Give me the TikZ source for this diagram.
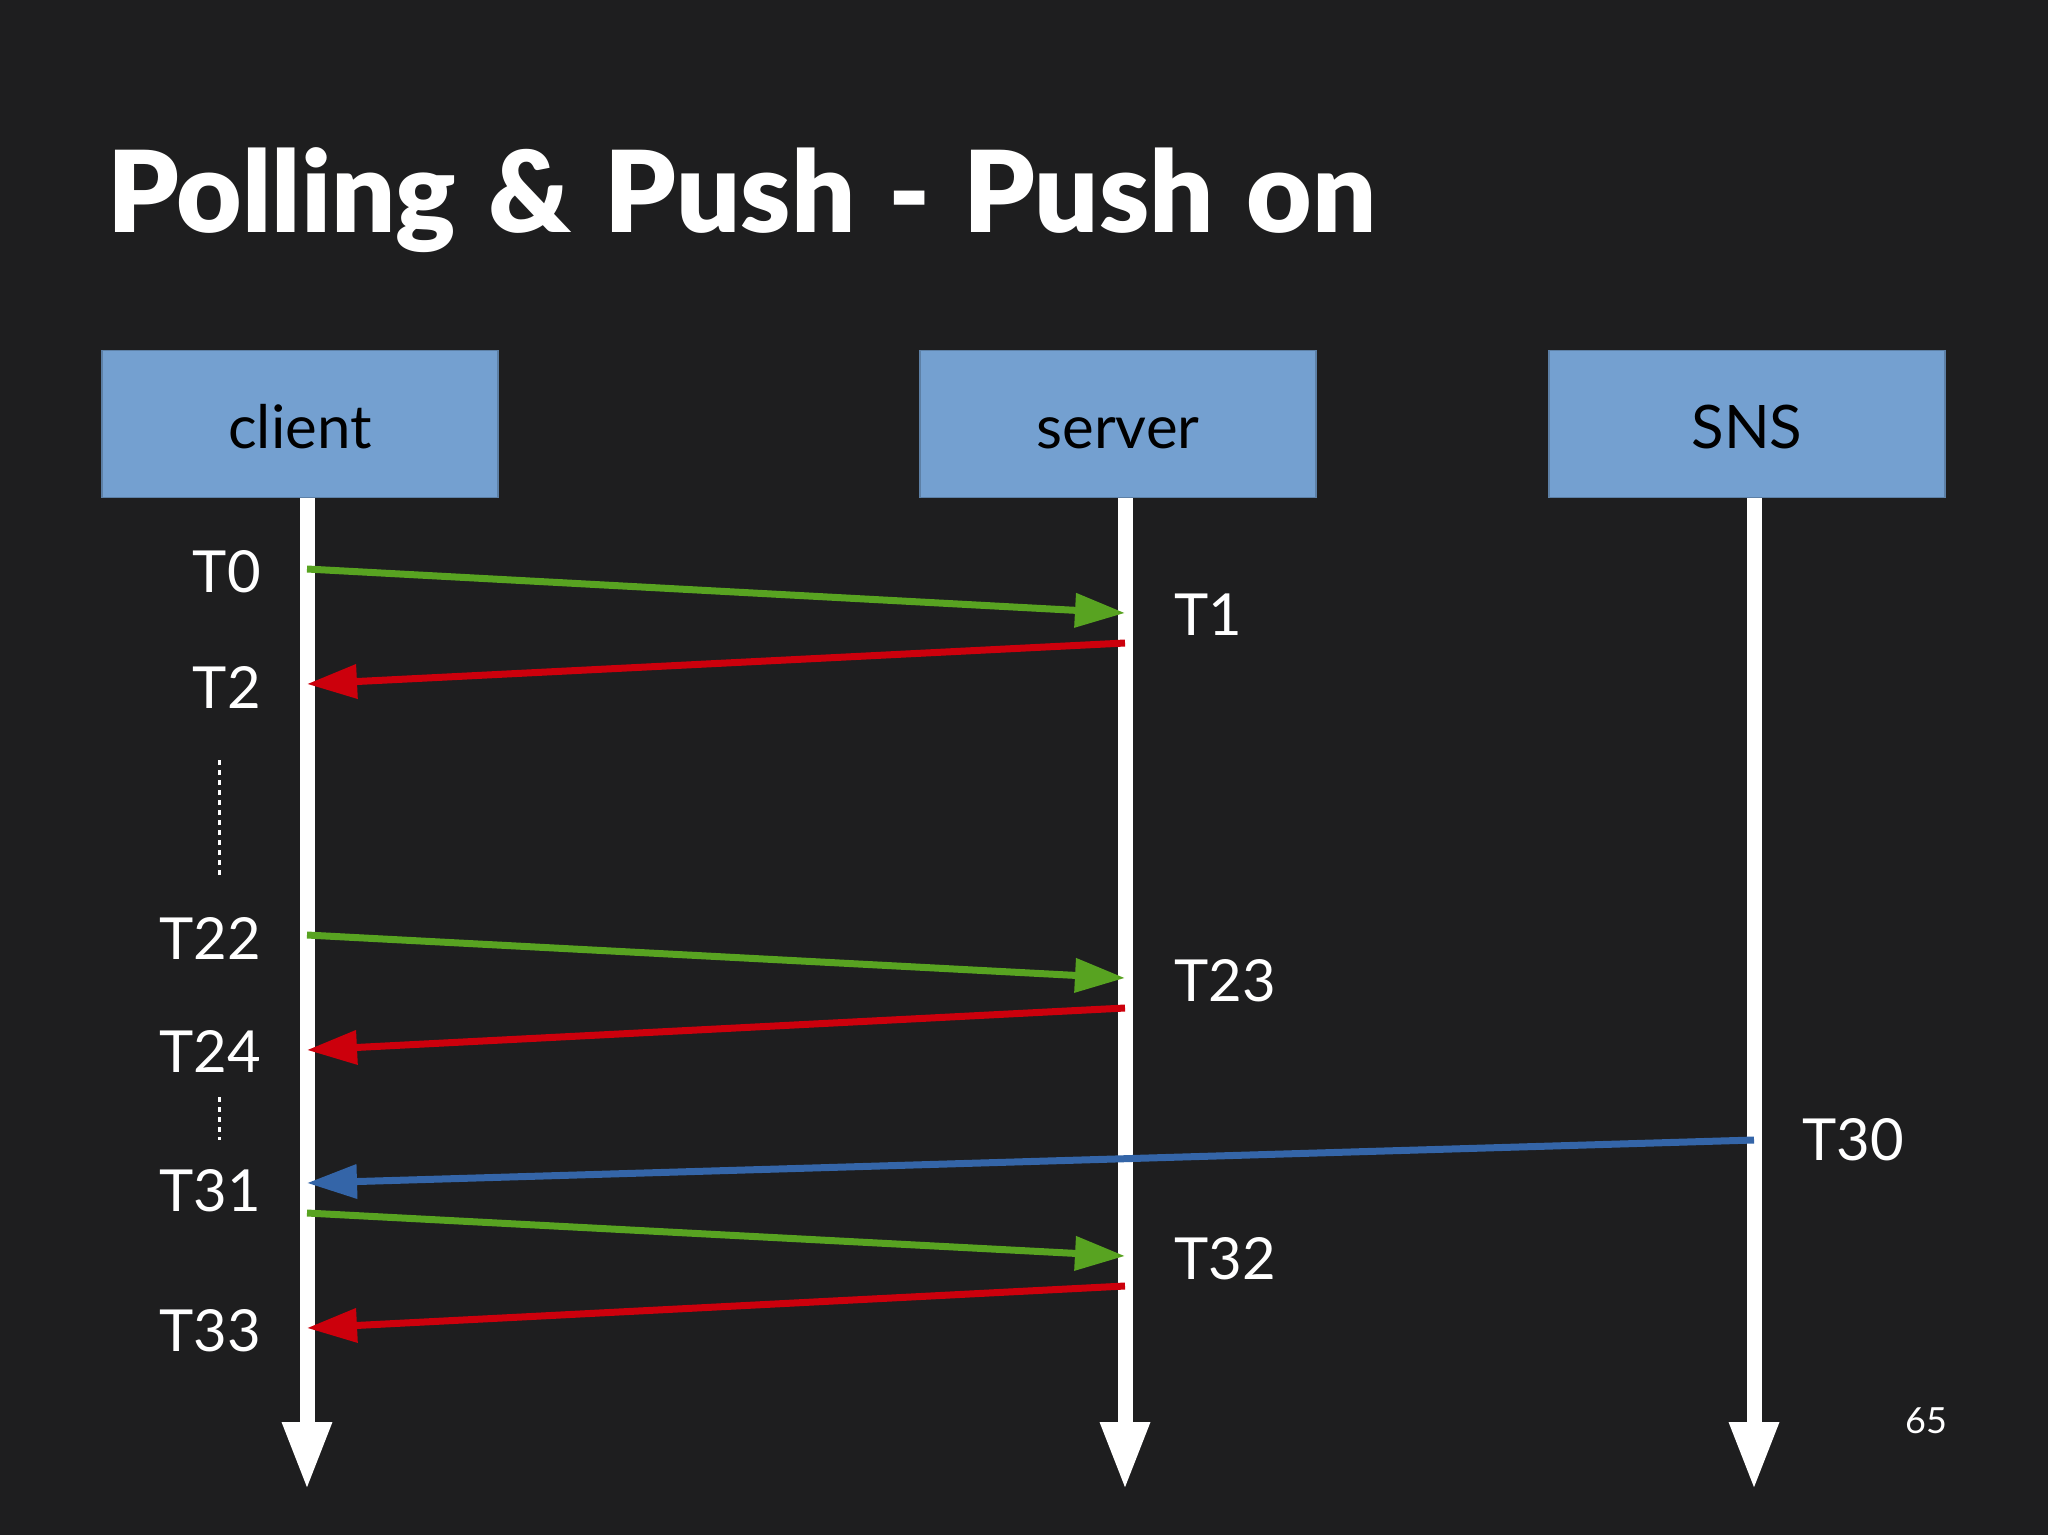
\documentclass[tikz,border=0pt]{standalone}
\usepackage{fontspec}
\setmainfont{Lato}
\newfontfamily\titlefont{Lato Black}[WordSpace=1.25]
\usetikzlibrary{arrows.meta}

\definecolor{slidebg}{RGB}{30,30,31}
\definecolor{boxblue}{RGB}{116,160,208}
\definecolor{msggreen}{RGB}{88,163,33}
\definecolor{msgred}{RGB}{204,0,12}
\definecolor{msgblue}{RGB}{52,101,168}

\tikzset{
    actor/.style={draw=boxblue!80!black, line width=1.5pt, fill=boxblue,
        minimum width=396pt, minimum height=147pt, inner sep=0pt,
        text height=48pt, text depth=0pt, font=\fontsize{60}{72}\selectfont},
    lifeline/.style={white, line width=15pt, -{Triangle[length=68pt,width=46pt]}},
    msg/.style={line width=7pt, -{Triangle[length=50pt,width=33pt]}},
    tlabel/.style={text=white, inner sep=0pt, font=\fontsize{58}{70}\selectfont},
}

\begin{document}
\begin{tikzpicture}[x=1pt, y=-1pt]
    % Background
    \useasboundingbox (0,0) rectangle (2048,1535);
    \fill[slidebg] (0,0) rectangle (2048,1535);

    % Title
    \node[text=white, inner sep=0pt, anchor=base west, font=\fontsize{113}{130}\titlefont] (title) at (107,232) {Polling \& Push - Push on};

    % Actors
    \node[actor] (client) at (300,424) {client};
    \node[actor] (server) at (1118,424) {server};
    \node[actor] (sns) at (1747,424) {SNS};

    % Lifelines
    \coordinate (clientEnd) at (307,1490);
    \coordinate (serverEnd) at (1125,1490);
    \coordinate (snsEnd) at (1754,1490);
    \draw[lifeline] (client.south -| clientEnd) -- (clientEnd);
    \draw[lifeline] (server.south -| serverEnd) -- (serverEnd);
    \draw[lifeline] (sns.south -| snsEnd) -- (snsEnd);

    % Time points on the lifelines
    \foreach \name/\y in {c0/569, c2/684, c22/935, c24/1050, c31/1183, c31b/1213, c33/1328} {
        \coordinate (\name) at (307,\y);
    }
    \foreach \name/\y in {s1/613, s2/643, s23/978, s24/1008, s32/1256, s33/1286} {
        \coordinate (\name) at (1125,\y);
    }
    \coordinate (n30) at (1754,1140);

    % Messages
    \draw[msg, msggreen] (c0) -- (s1);
    \draw[msg, msgred] (s2) -- (c2);
    \draw[msg, msggreen] (c22) -- (s23);
    \draw[msg, msgred] (s24) -- (c24);
    \draw[msg, msgblue] (n30) -- (c31);
    \draw[msg, msggreen] (c31b) -- (s32);
    \draw[msg, msgred] (s33) -- (c33);

    % Time labels
    \foreach \name/\y/\txt in {l0/572/T0, l2/687/T2, l22/938/T22, l24/1051/T24, l31/1191/T31, l33/1331/T33} {
        \node[tlabel, anchor=east] (\name) at (261,\y) {\txt};
    }
    \foreach \name/\y/\txt in {l1/615/T1, l23/981/T23, l32/1259/T32} {
        \node[tlabel, anchor=west] (\name) at (1174,\y) {\txt};
    }
    \node[tlabel, anchor=west] (l30) at (1802,1140) {T30};

    % Gaps
    \draw[white, line width=3pt, dash pattern=on 5pt off 5pt] (219,760) -- (219,875);
    \draw[white, line width=3pt, dash pattern=on 5pt off 5pt] (219,1097) -- (219,1140);

    % Page number
    \node[text=white, inner sep=0pt, font=\fontsize{36}{40}\selectfont] (page) at (1926,1421) {65};
\end{tikzpicture}
\end{document}
